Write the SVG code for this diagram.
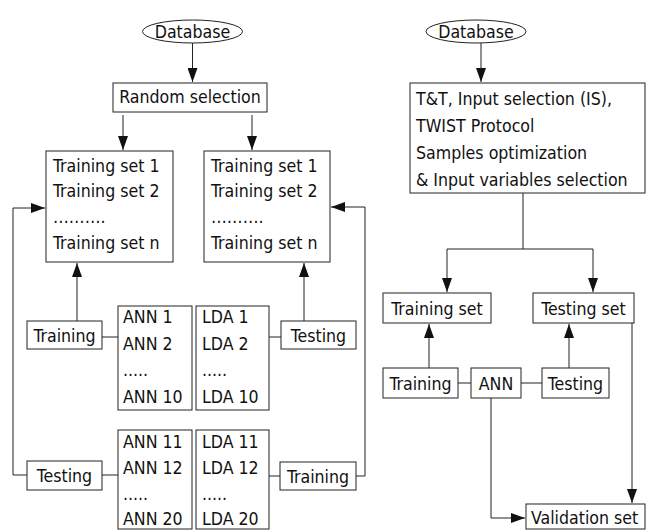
<svg xmlns="http://www.w3.org/2000/svg" width="646" height="530" viewBox="0 0 646 530">
<style>
rect, ellipse { fill: #fff; stroke: #222; stroke-width: 1; }
text { font-family: "DejaVu Sans Condensed", "DejaVu Sans", sans-serif; font-stretch: condensed; font-size: 17.6px; fill: #111; }
.c { text-anchor: middle; }
.ln { fill: none; stroke: #222; stroke-width: 1; }
</style>
<defs>
<marker id="ah" viewBox="0 0 14 10" refX="14" refY="5" markerWidth="14" markerHeight="10" markerUnits="userSpaceOnUse" orient="auto">
<path d="M0,0 L14,5 L0,10 z" fill="#111"/>
</marker>
</defs>
<g id="connectors">
<path class="ln" d="M192.5,43 V82" marker-end="url(#ah)"/>
<path class="ln" d="M123,115 V150" marker-end="url(#ah)"/>
<path class="ln" d="M252,115 V150" marker-end="url(#ah)"/>
<path class="ln" d="M77,321 V263" marker-end="url(#ah)"/>
<path class="ln" d="M304,321 V263" marker-end="url(#ah)"/>
<path class="ln" d="M102,337 H118"/>
<path class="ln" d="M269,337 H281"/>
<path class="ln" d="M27,475 H13 V208 H45" marker-end="url(#ah)"/>
<path class="ln" d="M102,475 H118"/>
<path class="ln" d="M269,476 H280"/>
<path class="ln" d="M356,476 H365 V207 H331" marker-end="url(#ah)"/>
<path class="ln" d="M481,43 V82" marker-end="url(#ah)"/>
<path class="ln" d="M523,193 V249 H447 V292" marker-end="url(#ah)"/>
<path class="ln" d="M523,249 H593 V292" marker-end="url(#ah)"/>
<path class="ln" d="M429,368 V324" marker-end="url(#ah)"/>
<path class="ln" d="M569,368 V324" marker-end="url(#ah)"/>
<path class="ln" d="M458,383 H471"/>
<path class="ln" d="M521,383 H542"/>
<path class="ln" d="M632,323 V503" marker-end="url(#ah)"/>
<path class="ln" d="M491,398 V518 H525" marker-end="url(#ah)"/>
</g>
<g id="db1"><ellipse cx="192.5" cy="31.5" rx="50" ry="11.5"/><text class="c" x="192.5" y="38">Database</text></g>
<g id="random"><rect x="113" y="83" width="154" height="29"/><text class="c" x="190" y="103">Random selection</text></g>
<g id="tsets1"><rect x="46" y="151" width="127" height="111"/>
<text x="53" y="172">Training set 1</text><text x="53" y="197">Training set 2</text><text x="53" y="223">……….</text><text x="53" y="249">Training set n</text></g>
<g id="tsets2"><rect x="204" y="151" width="126" height="111"/>
<text x="211" y="172">Training set 1</text><text x="211" y="197">Training set 2</text><text x="211" y="223">……….</text><text x="211" y="249">Training set n</text></g>
<g id="training1"><rect x="27" y="321" width="75" height="28"/><text class="c" x="64.5" y="342">Training</text></g>
<g id="ann1"><rect x="118" y="306" width="74" height="104"/>
<text x="123" y="323">ANN 1</text><text x="123" y="350">ANN 2</text><text x="123" y="376">.....</text><text x="123" y="403">ANN 10</text></g>
<g id="lda1"><rect x="196" y="306" width="73" height="104"/>
<text x="202" y="323">LDA 1</text><text x="202" y="350">LDA 2</text><text x="202" y="376">.....</text><text x="202" y="403">LDA 10</text></g>
<g id="testing1"><rect x="281" y="321" width="75" height="28"/><text class="c" x="318.5" y="342">Testing</text></g>
<g id="testing2"><rect x="27" y="461" width="75" height="29"/><text class="c" x="64.5" y="482">Testing</text></g>
<g id="ann2"><rect x="118" y="430" width="74" height="99"/>
<text x="123" y="448">ANN 11</text><text x="123" y="474">ANN 12</text><text x="123" y="500">.....</text><text x="123" y="525">ANN 20</text></g>
<g id="lda2"><rect x="196" y="430" width="73" height="99"/>
<text x="202" y="448">LDA 11</text><text x="202" y="474">LDA 12</text><text x="202" y="500">.....</text><text x="202" y="525">LDA 20</text></g>
<g id="training2"><rect x="280" y="462" width="76" height="28"/><text class="c" x="318" y="483">Training</text></g>
<g id="db2"><ellipse cx="476" cy="31.5" rx="50" ry="11.5"/><text class="c" x="476" y="38">Database</text></g>
<g id="tt"><rect x="410" y="83" width="235" height="110"/>
<text x="416" y="105">T&amp;T, Input selection (IS),</text><text x="416" y="132">TWIST Protocol</text><text x="416" y="159">Samples optimization</text><text x="416" y="186">&amp; Input variables selection</text></g>
<g id="trainset"><rect x="383" y="293" width="108" height="30"/><text class="c" x="437" y="315">Training set</text></g>
<g id="testset"><rect x="533" y="293" width="101" height="30"/><text class="c" x="583.5" y="315">Testing set</text></g>
<g id="training3"><rect x="383" y="368" width="75" height="30"/><text class="c" x="420.5" y="390">Training</text></g>
<g id="ann3"><rect x="471" y="368" width="50" height="30"/><text class="c" x="496" y="390">ANN</text></g>
<g id="testing3"><rect x="542" y="368" width="67" height="30"/><text class="c" x="575.5" y="390">Testing</text></g>
<g id="valset"><rect x="526" y="504" width="119" height="25"/><text x="531" y="524">Validation set</text></g>
</svg>
